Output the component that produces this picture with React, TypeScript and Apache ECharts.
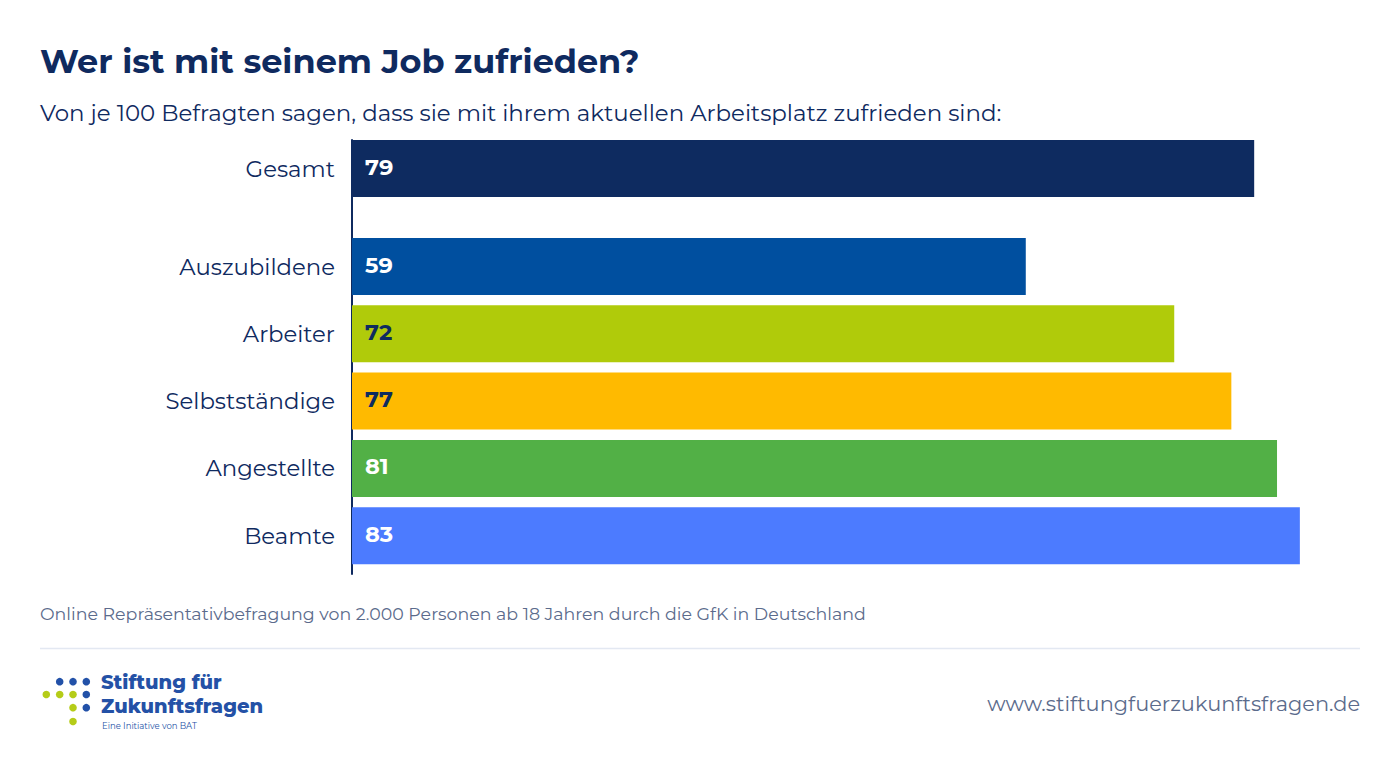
import React, { useEffect, useRef } from "react";
import * as echarts from "echarts";

const totalCategory = ["Gesamt"];
const totalValues = [79];
const groupCategories = ["Auszubildene", "Arbeiter", "Selbstständige", "Angestellte", "Beamte"];
const groupValues = [59, 72, 77, 81, 83];
const totalColors = ["#0e2b60"];
const groupColors = ["#004f9f", "#b0cb0a", "#ffba00", "#52b046", "#4c7bff"];
const totalLabelColors = ["#ffffff"];
const groupLabelColors = ["#ffffff", "#0e2b60", "#0e2b60", "#ffffff", "#ffffff"];

const FONT = "Montserrat, 'DejaVu Sans', sans-serif";
const NAVY = "#0f2a5f";
const GREY = "#5b6b8c";
const DARKDOT = "#2251a8";
const GREENDOT = "#b5cc18";

const dots: [number, number, string][] = [
  [59.7, 681.7, DARKDOT], [73, 681.7, DARKDOT], [86.3, 681.7, DARKDOT],
  [46.3, 694.5, GREENDOT], [59.7, 694.5, GREENDOT], [73, 694.5, GREENDOT], [86.3, 694.5, DARKDOT],
  [73, 707.7, GREENDOT], [86.3, 707.7, DARKDOT],
  [73, 721.5, GREENDOT],
];

function buildData(values: number[], colors: string[], labelColors: string[]) {
  return values.map((v, i) => ({
    value: v,
    itemStyle: { color: colors[i] },
    label: { color: labelColors[i] },
  }));
}

export default function App() {
  const ref = useRef<HTMLDivElement>(null);
  useEffect(() => {
    document.body.style.margin = "0";
    if (!ref.current) return;
    const chart = echarts.init(ref.current, undefined, { renderer: "svg" });
    const barLabel = {
      show: true,
      position: "insideLeft",
      distance: 13,
      fontFamily: FONT,
      fontSize: 22.5,
      fontWeight: "bold",
      offset: [0, -2],
    };
    const catAxis = (data: string[], gridIndex: number) => ({
      type: "category",
      gridIndex,
      data,
      inverse: true,
      axisLine: { show: false },
      axisTick: { show: false },
      axisLabel: { color: NAVY, fontFamily: FONT, fontSize: 22.8, margin: 17, padding: [4, 0, 0, 0] },
    });
    const valAxis = (gridIndex: number) => ({
      type: "value",
      gridIndex,
      min: 0,
      max: 90,
      show: false,
    });
    chart.setOption({
      animation: false,
      backgroundColor: "#ffffff",
      grid: [
        { left: 352, right: 20.2, top: 140, height: 57 },
        { left: 352, right: 20.2, top: 232.85, height: 336.5 },
        { left: 351.5, right: 20.2, top: 140, height: 434, z: 3 },
      ],
      xAxis: [valAxis(0), valAxis(1), { type: "value", gridIndex: 2, show: false }],
      yAxis: [
        catAxis(totalCategory, 0),
        catAxis(groupCategories, 1),
        {
          type: "value",
          gridIndex: 2,
          axisLine: { show: true, lineStyle: { color: NAVY, width: 2 } },
          axisTick: { show: false },
          axisLabel: { show: false },
          splitLine: { show: false },
        },
      ],
      series: [
        {
          type: "bar",
          xAxisIndex: 0,
          yAxisIndex: 0,
          barWidth: 57,
          data: buildData(totalValues, totalColors, totalLabelColors),
          label: barLabel,
        },
        {
          type: "bar",
          xAxisIndex: 1,
          yAxisIndex: 1,
          barWidth: 57,
          data: buildData(groupValues, groupColors, groupLabelColors),
          label: barLabel,
        },
      ],
      graphic: [
        {
          type: "text",
          left: 40,
          top: 44,
          style: { text: "Wer ist mit seinem Job zufrieden?", fill: NAVY, font: `bold 33.5px ${FONT}` },
        },
        {
          type: "text",
          left: 40,
          top: 101,
          style: {
            text: "Von je 100 Befragten sagen, dass sie mit ihrem aktuellen Arbeitsplatz zufrieden sind:",
            fill: NAVY,
            font: `22.9px ${FONT}`,
          },
        },
        {
          type: "text",
          left: 40,
          top: 605,
          style: {
            text: "Online Repräsentativbefragung von 2.000 Personen ab 18 Jahren durch die GfK in Deutschland",
            fill: GREY,
            font: `17.4px ${FONT}`,
          },
        },
        {
          type: "line",
          shape: { x1: 40, y1: 648.5, x2: 1360, y2: 648.5 },
          style: { stroke: "#e3e8f2", lineWidth: 1.5 },
        },
        {
          type: "text",
          right: 40,
          top: 693,
          style: { text: "www.stiftungfuerzukunftsfragen.de", fill: GREY, font: `20.9px ${FONT}` },
        },
        ...dots.map(([x, y, c]) => ({
          type: "circle",
          shape: { cx: x, cy: y, r: 3.8 },
          style: { fill: c },
        })),
        {
          type: "text",
          left: 101,
          top: 670,
          style: {
            text: "Stiftung für\nZukunftsfragen",
            fill: "#2451a6",
            font: `800 19.5px ${FONT}`,
            lineHeight: 24,
          },
        },
        {
          type: "text",
          left: 102,
          top: 721,
          style: { text: "Eine Initiative von BAT", fill: "#2451a6", font: `8.5px ${FONT}`, lineHeight: 9 },
        },
      ],
    });
    return () => chart.dispose();
  }, []);
  return <div ref={ref} style={{ width: 1400, height: 758 }} />;
}
